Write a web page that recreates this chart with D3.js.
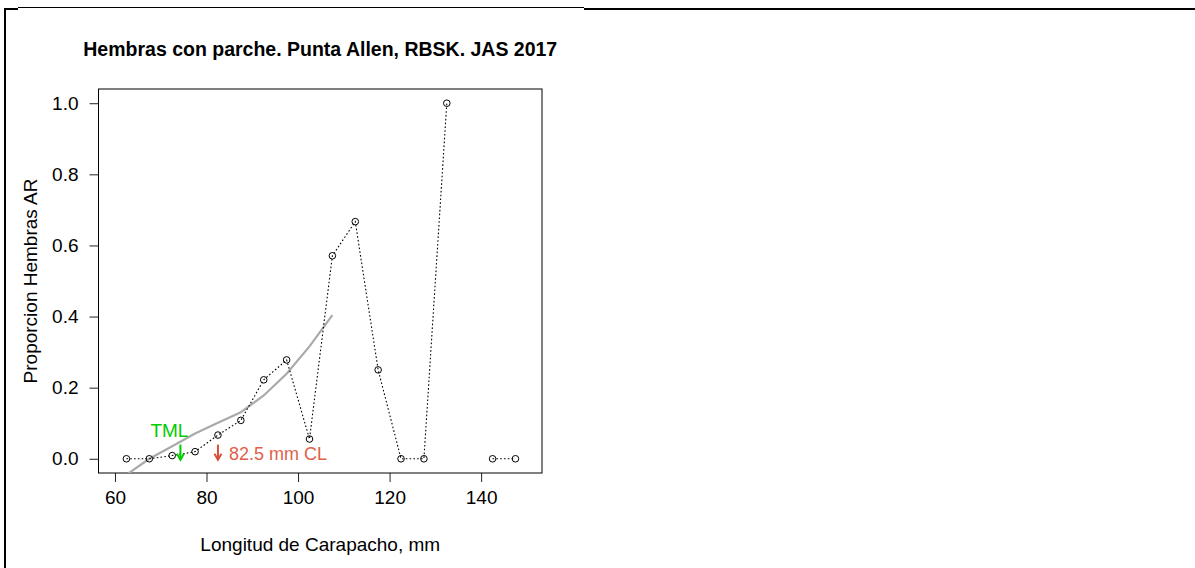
<!DOCTYPE html>
<html><head><meta charset="utf-8">
<script src="https://cdn.jsdelivr.net/npm/d3@7"></script>
<style>
html,body{margin:0;padding:0;background:#fff;}
svg{display:block;font-family:"Liberation Sans",Arial,sans-serif;}
</style></head>
<body>
<svg id="chart" width="1195" height="568"></svg>
<script>
// ---- data ----
const lengthClasses = [62.5, 67.5, 72.5, 77.5, 82.5, 87.5, 92.5, 97.5, 102.5, 107.5, 112.5, 117.5, 122.5, 127.5, 132.5, 137.5, 142.5, 147.5];
const proportionAR = [0, 0, 0.009, 0.02, 0.0667, 0.108, 0.222, 0.278, 0.0556, 0.571, 0.667, 0.25, 0, 0, 1.0, null, 0, 0];
const fitLengths = [62.5, 67.5, 72.5, 77.5, 82.5, 87.5, 92.5, 97.5, 102.5, 107.5];
const fitValues = [-0.045, 0.0, 0.035, 0.071, 0.101, 0.131, 0.178, 0.239, 0.316, 0.404];
const xTicks = [60, 80, 100, 120, 140];
const yTicks = [0.0, 0.2, 0.4, 0.6, 0.8, 1.0];
const tmlValue = 74.3;
const clValue = 82.5;
const titleText = "Hembras con parche. Punta Allen, RBSK. JAS 2017";
const xLabel = "Longitud de Carapacho, mm";
const yLabel = "Proporcion Hembras AR";

// ---- layout ----
const svg = d3.select("#chart");
const box = {left: 98.5, right: 542, top: 89, bottom: 473};
const x = d3.scaleLinear().domain([56.4, 153.3]).range([box.left, box.right]);
const y = d3.scaleLinear().domain([-0.04, 1.04]).range([box.bottom, box.top]);
const fontSize = 19;

// outer frame
svg.append("line").attr("x1", 18).attr("x2", 584).attr("y1", 7.5).attr("y2", 7.5).attr("stroke", "#000").attr("stroke-width", 1);
svg.append("line").attr("x1", 4).attr("x2", 18).attr("y1", 9).attr("y2", 9).attr("stroke", "#000").attr("stroke-width", 2);
svg.append("line").attr("x1", 584).attr("x2", 1195).attr("y1", 9).attr("y2", 9).attr("stroke", "#000").attr("stroke-width", 2);
svg.append("line").attr("x1", 5).attr("x2", 5).attr("y1", 8).attr("y2", 568).attr("stroke", "#000").attr("stroke-width", 2);

// clip
svg.append("clipPath").attr("id", "plotclip").append("rect")
  .attr("x", box.left).attr("y", box.top).attr("width", box.right - box.left).attr("height", box.bottom - box.top);

// axes
const xAxis = d3.axisBottom(x).tickValues(xTicks).tickSize(9).tickPadding(9).tickFormat(d3.format("d"));
const gx = svg.append("g").attr("transform", `translate(0,${box.bottom})`).call(xAxis);
gx.select(".domain").remove();
gx.selectAll(".tick line").attr("stroke", "#222");
gx.selectAll("text").attr("font-size", fontSize).attr("fill", "#000").attr("font-family", "'Liberation Sans',Arial,sans-serif").attr("dy", "0.71em");

const yAxis = d3.axisLeft(y).tickValues(yTicks).tickSize(9).tickPadding(11).tickFormat(d3.format(".1f"));
const gy = svg.append("g").attr("transform", `translate(${box.left},0)`).call(yAxis);
gy.select(".domain").remove();
gy.selectAll(".tick line").attr("stroke", "#222");
gy.selectAll("text").attr("font-size", fontSize).attr("fill", "#000").attr("font-family", "'Liberation Sans',Arial,sans-serif");

// box
svg.append("rect").attr("x", box.left).attr("y", box.top)
  .attr("width", box.right - box.left).attr("height", box.bottom - box.top)
  .attr("fill", "none").attr("stroke", "#000").attr("stroke-width", 1);

// fitted curve
const fitData = fitLengths.map((d, i) => ({x: d, y: fitValues[i]}));
svg.append("path").datum(fitData)
  .attr("clip-path", "url(#plotclip)")
  .attr("d", d3.line().x(d => x(d.x)).y(d => y(d.y)))
  .attr("fill", "none").attr("stroke", "#aaaaaa").attr("stroke-width", 2.2);

// observed dotted line
const obs = lengthClasses.map((d, i) => ({x: d, y: proportionAR[i]}));
svg.append("path").datum(obs)
  .attr("d", d3.line().defined(d => d.y !== null).x(d => x(d.x)).y(d => y(d.y)))
  .attr("fill", "none").attr("stroke", "#000").attr("stroke-width", 1.1)
  .attr("stroke-dasharray", "1.6,2.2");

svg.append("g").selectAll("circle").data(obs.filter(d => d.y !== null)).join("circle")
  .attr("cx", d => x(d.x)).attr("cy", d => y(d.y)).attr("r", 3.3)
  .attr("fill", "none").attr("stroke", "#000").attr("stroke-width", 1);

// arrows
function arrow(xv, color) {
  const xa = x(xv);
  const y0 = y(0.04), y1 = y(0.0) + 1;
  const g = svg.append("g").attr("stroke", color).attr("stroke-width", 2).attr("fill", "none");
  g.append("line").attr("x1", xa).attr("x2", xa).attr("y1", y0).attr("y2", y1);
  g.append("path").attr("d", `M${xa - 3.5},${y1 - 6} L${xa},${y1} L${xa + 3.5},${y1 - 6}`);
}
arrow(tmlValue, "#00cc00");
arrow(clValue, "#d9503a");

svg.append("text").attr("x", x(tmlValue) - 11).attr("y", y(0.06))
  .attr("text-anchor", "middle").attr("font-size", fontSize).attr("fill", "#00cc00").text("TML");
svg.append("text").attr("x", x(clValue) + 11).attr("y", y(0.0) + 1)
  .attr("text-anchor", "start").attr("font-size", 18).attr("fill", "#e0604c").text(clValue + " mm CL");

// titles
svg.append("text").attr("x", (box.left + box.right) / 2).attr("y", 56)
  .attr("text-anchor", "middle").attr("font-size", 19.5).attr("font-weight", "bold").attr("fill", "#000").text(titleText);
svg.append("text").attr("x", (box.left + box.right) / 2).attr("y", 551)
  .attr("text-anchor", "middle").attr("font-size", fontSize).attr("fill", "#000").text(xLabel);
svg.append("text").attr("transform", `translate(37,${(box.top + box.bottom) / 2}) rotate(-90)`)
  .attr("text-anchor", "middle").attr("font-size", fontSize).attr("fill", "#000").text(yLabel);
</script>
</body></html>
